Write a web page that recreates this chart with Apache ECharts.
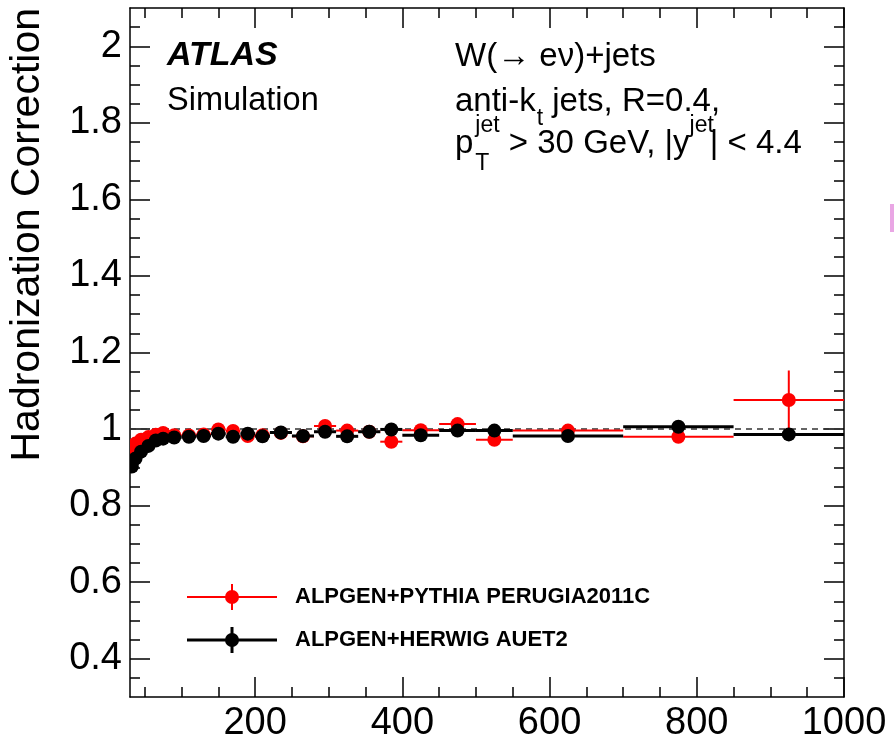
<!DOCTYPE html>
<html>
<head>
<meta charset="utf-8">
<script src="https://cdn.jsdelivr.net/npm/echarts@6.0.0/dist/echarts.min.js"></script>
<style>
  html, body { margin: 0; padding: 0; background: #fff; }
  #chart { width: 894px; height: 744px; }
</style>
</head>
<body>
<div id="chart"></div>
<script>
// Leading-jet pT bins (GeV)
const binLo = [30, 35, 40, 50, 60, 70, 80, 100, 120, 140, 160, 180, 200, 220, 250, 280, 310, 340, 370, 400, 450, 500, 550, 700, 850];
const binHi = [35, 40, 50, 60, 70, 80, 100, 120, 140, 160, 180, 200, 220, 250, 280, 310, 340, 370, 400, 450, 500, 550, 700, 850, 1000];

// Hadronization correction, ALPGEN+PYTHIA PERUGIA2011C
const pythiaVal = [0.948, 0.962, 0.972, 0.979, 0.985, 0.990, 0.984, 0.983, 0.986, 0.999, 0.995, 0.982, 0.984, 0.990, 0.981, 1.008, 0.996, 0.993, 0.967, 0.997, 1.013, 0.972, 0.996, 0.980, 1.076];
const pythiaErr = [0.004, 0.004, 0.004, 0.004, 0.004, 0.004, 0.004, 0.004, 0.005, 0.005, 0.005, 0.005, 0.006, 0.006, 0.006, 0.007, 0.007, 0.008, 0.008, 0.008, 0.009, 0.010, 0.010, 0.015, 0.077];

// Hadronization correction, ALPGEN+HERWIG AUET2
const herwigVal = [0.902, 0.923, 0.941, 0.956, 0.970, 0.975, 0.978, 0.980, 0.982, 0.988, 0.980, 0.988, 0.981, 0.991, 0.982, 0.993, 0.981, 0.993, 0.999, 0.984, 0.996, 0.996, 0.982, 1.006, 0.986];
const herwigErr = [0.004, 0.004, 0.004, 0.004, 0.004, 0.004, 0.004, 0.004, 0.004, 0.005, 0.005, 0.005, 0.005, 0.005, 0.006, 0.006, 0.006, 0.007, 0.007, 0.007, 0.008, 0.008, 0.008, 0.010, 0.010];

// Axis ticks
const xMajor = [200, 400, 600, 800, 1000];
const xMinor = [50, 100, 150, 250, 300, 350, 450, 500, 550, 650, 700, 750, 850, 900, 950];
const yMajor = [0.4, 0.6, 0.8, 1, 1.2, 1.4, 1.6, 1.8, 2];
const yMinor = [0.35, 0.45, 0.5, 0.55, 0.65, 0.7, 0.75, 0.85, 0.9, 0.95, 1.05, 1.1, 1.15, 1.25, 1.3, 1.35, 1.45, 1.5, 1.55, 1.65, 1.7, 1.75, 1.85, 1.9, 1.95, 2.05];

const FONT = '"Liberation Sans", Arial, Helvetica, sans-serif';
const chart = echarts.init(document.getElementById('chart'), null, { renderer: 'canvas' });

function xAxisDef(pos, ticks, len, withLine, withLabel) {
  return {
    type: 'value', position: pos, min: 30, max: 1000,
    axisLine: { show: withLine, onZero: false, lineStyle: { color: '#000', width: 1.5 } },
    axisTick: { show: true, inside: true, length: len, customValues: ticks, lineStyle: { color: '#000', width: 1.5 } },
    axisLabel: withLabel ? {
      show: true, customValues: ticks, color: '#000', fontSize: 38, fontFamily: FONT, margin: 8,
      formatter: v => String(Math.round(v))
    } : { show: false },
    splitLine: { show: false }
  };
}
function yAxisDef(pos, ticks, len, withLine, withLabel) {
  return {
    type: 'value', position: pos, min: 0.3, max: 2.1,
    axisLine: { show: withLine, onZero: false, lineStyle: { color: '#000', width: 1.5 } },
    axisTick: { show: true, inside: true, length: len, customValues: ticks, lineStyle: { color: '#000', width: 1.5 } },
    axisLabel: withLabel ? {
      show: true, customValues: ticks, color: '#000', fontSize: 38, fontFamily: FONT, margin: 8,
      formatter: v => String(+(+v).toFixed(2))
    } : { show: false },
    splitLine: { show: false }
  };
}

function errRender(color, lw) {
  return function (params, api) {
    const lo = api.value(0), hi = api.value(1), v = api.value(2), e = api.value(3);
    const xc = (lo + hi) / 2;
    const pL = api.coord([lo, v]), pR = api.coord([hi, v]), pC = api.coord([xc, v]);
    const pT = api.coord([xc, v + e]), pB = api.coord([xc, v - e]);
    return {
      type: 'group',
      children: [
        { type: 'line', shape: { x1: pL[0], y1: pL[1], x2: pR[0], y2: pR[1] }, style: { stroke: color, lineWidth: lw } },
        { type: 'line', shape: { x1: pT[0], y1: pT[1], x2: pB[0], y2: pB[1] }, style: { stroke: color, lineWidth: lw } },
        { type: 'circle', shape: { cx: pC[0], cy: pC[1], r: 7 }, style: { fill: color } }
      ]
    };
  };
}

const pythiaData = binLo.map((lo, i) => [lo, binHi[i], pythiaVal[i], pythiaErr[i]]);
const herwigData = binLo.map((lo, i) => [lo, binHi[i], herwigVal[i], herwigErr[i]]);

// text layout helpers
const mctx = document.createElement('canvas').getContext('2d');
function tw(str, size, weight) {
  mctx.font = (weight || 'normal') + ' ' + size + 'px ' + FONT;
  return mctx.measureText(str).width;
}
function txt(x, y, str, size, opts) {
  opts = opts || {};
  return {
    type: 'text', x: x, y: y, rotation: opts.rotation || 0,
    style: {
      text: str, x: 0, y: 0, fill: opts.color || '#000',
      font: (opts.style || 'normal') + ' ' + (opts.weight || 'normal') + ' ' + size + 'px ' + FONT,
      textAlign: opts.align || 'left', textVerticalAlign: 'middle'
    }
  };
}

const big = 33, small = 23;
const tx = 455;
const graphics = [];
// y-axis title
graphics.push(txt(28, 8, 'Hadronization Correction', 41, { align: 'right', rotation: Math.PI / 2 }));
// experiment labels
graphics.push(txt(167, 56, 'ATLAS', 34, { weight: 'bold', style: 'italic' }));
graphics.push(txt(167, 101, 'Simulation', 32.5));
// process description
graphics.push(txt(tx, 57, 'W(\u2192 e\u03bd)+jets', big));
let cx = tx;
graphics.push(txt(cx, 102, 'anti-k', big));
cx += tw('anti-k', big);
graphics.push(txt(cx + 1, 119, 't', small));
cx += tw('t', small) + 1;
graphics.push(txt(cx, 102, ' jets, R=0.4,', big));
// third line with sub/superscripts
cx = tx;
graphics.push(txt(cx, 144, 'p', big));
cx += tw('p', big) + 2;
graphics.push(txt(cx, 126, 'jet', small));
graphics.push(txt(cx, 164, 'T', small));
cx += Math.max(tw('jet', small), tw('T', small));
graphics.push(txt(cx, 144, ' > 30 GeV, |y', big));
cx += tw(' > 30 GeV, |y', big);
graphics.push(txt(cx, 126, 'jet', small));
cx += tw('jet', small) - 4;
graphics.push(txt(cx, 144, '| < 4.4', big));

// legend
function legendEntry(y, color, lw, label) {
  graphics.push({ type: 'line', shape: { x1: 187, y1: y, x2: 277, y2: y }, style: { stroke: color, lineWidth: lw } });
  graphics.push({ type: 'line', shape: { x1: 232, y1: y - 13, x2: 232, y2: y + 13 }, style: { stroke: color, lineWidth: lw } });
  graphics.push({ type: 'circle', shape: { cx: 232, cy: y, r: 7 }, style: { fill: color } });
  graphics.push(txt(295, y, label, 22, { weight: 'bold' }));
}
legendEntry(597, '#ff0000', 2, 'ALPGEN+PYTHIA PERUGIA2011C');
legendEntry(640, '#000000', 3, 'ALPGEN+HERWIG AUET2');
// small mark at the right edge
graphics.push({ type: 'rect', shape: { x: 890, y: 204, width: 4, height: 28 }, style: { fill: '#e9a6e4' } });

chart.setOption({
  animation: false,
  backgroundColor: '#fff',
  grid: { left: 130, right: 50, top: 8, bottom: 47, containLabel: false },
  xAxis: [
    xAxisDef('bottom', xMajor, 20, true, true),
    xAxisDef('bottom', xMinor, 10, false, false),
    xAxisDef('top', xMajor, 20, true, false),
    xAxisDef('top', xMinor, 10, false, false)
  ],
  yAxis: [
    yAxisDef('left', yMajor, 20, true, true),
    yAxisDef('left', yMinor, 10, false, false),
    yAxisDef('right', yMajor, 20, true, false),
    yAxisDef('right', yMinor, 10, false, false)
  ],
  series: [
    {
      type: 'line', name: 'unity', xAxisIndex: 0, yAxisIndex: 0,
      data: [[30, 1], [1000, 1]], symbol: 'none', silent: true,
      lineStyle: { color: '#333', width: 1.5, type: [6, 5] }, z: 1
    },
    {
      type: 'custom', name: 'ALPGEN+PYTHIA PERUGIA2011C', xAxisIndex: 0, yAxisIndex: 0,
      renderItem: errRender('#ff0000', 2), data: pythiaData,
      encode: { x: [0, 1], y: 2 }, clip: true, z: 2
    },
    {
      type: 'custom', name: 'ALPGEN+HERWIG AUET2', xAxisIndex: 0, yAxisIndex: 0,
      renderItem: errRender('#000000', 3), data: herwigData,
      encode: { x: [0, 1], y: 2 }, clip: true, z: 3
    }
  ],
  graphic: graphics
});
</script>
</body>
</html>
